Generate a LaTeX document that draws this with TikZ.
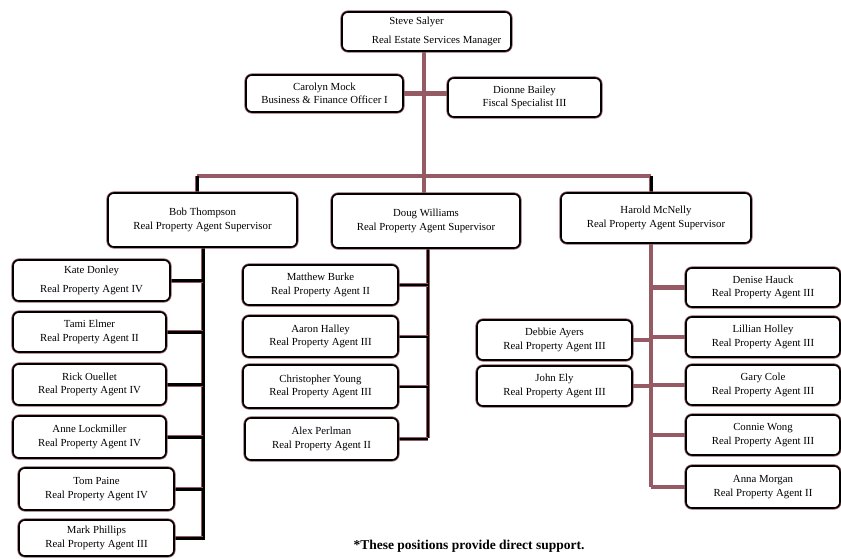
\documentclass[tikz,border=0pt]{standalone}
\usepackage{fontspec}
\setmainfont{Liberation Serif}
\pgfdeclarelayer{bg}
\pgfsetlayers{bg,main}
\definecolor{maroon}{RGB}{150,90,100}
\tikzset{
  box/.style={draw=black, line width=1.6pt, rounded corners=6pt, fill=white,
    preaction={draw=maroon, line width=3.2pt},
    align=center, inner sep=0pt, font=\fontsize{10.8}{13.5}\selectfont},
  mline/.style={draw=maroon, line width=4.5pt},
  bline/.style={draw=black, line width=3pt, preaction={draw=maroon, line width=4pt}},
  dline/.style={draw=black, line width=2pt, preaction={draw=maroon, line width=3.2pt}},
}
\begin{document}
\begin{tikzpicture}[x=1pt,y=-1pt]
\useasboundingbox (0,0) rectangle (841,558);
% top
\node[box, minimum width=169pt, minimum height=39pt] (steve) at (426.5,31.5) {\hspace*{-20pt}Steve Salyer\\[6pt] \hspace*{20pt}Real Estate Services Manager};
\node[box, minimum width=157pt, minimum height=37pt] (carolyn) at (324.5,93.5) {Carolyn Mock\\Business \& Finance Officer I};
\node[box, minimum width=153pt, minimum height=39pt] (dionne) at (524.5,97.5) {Dionne Bailey\\Fiscal Specialist III};
% supervisors
\node[box, minimum width=189pt, minimum height=54pt] (bob) at (202.5,220) {Bob Thompson\\Real Property Agent Supervisor};
\node[box, minimum width=188pt, minimum height=54pt] (doug) at (426,221) {Doug Williams\\Real Property Agent Supervisor};
\node[box, minimum width=190pt, minimum height=50pt] (harold) at (656,218) {Harold McNelly\\Real Property Agent Supervisor};
% Bob's team
\node[box, minimum width=157pt, minimum height=41pt] (kate) at (91.5,280.5) {Kate Donley\\[6pt]Real Property Agent IV};
\node[box, minimum width=153pt, minimum height=40pt] (tami) at (89.5,332) {Tami Elmer\\Real Property Agent II};
\node[box, minimum width=153pt, minimum height=41pt] (rick) at (89.5,384.5) {Rick Ouellet\\Real Property Agent IV};
\node[box, minimum width=153pt, minimum height=42pt] (anne) at (89.5,437) {Anne Lockmiller\\Real Property Agent IV};
\node[box, minimum width=155pt, minimum height=42pt] (tom) at (96.5,489) {Tom Paine\\Real Property Agent IV};
\node[box, minimum width=155pt, minimum height=36pt] (mark) at (96.5,538) {Mark Phillips\\Real Property Agent III};
% Doug's team
\node[box, minimum width=155pt, minimum height=40pt] (matthew) at (320.5,285) {Matthew Burke\\Real Property Agent II};
\node[box, minimum width=155pt, minimum height=41pt] (aaron) at (320.5,336.5) {Aaron Halley\\Real Property Agent III};
\node[box, minimum width=155pt, minimum height=43pt] (chris) at (320.5,386.5) {Christopher Young\\Real Property Agent III};
\node[box, minimum width=153pt, minimum height=42pt] (alex) at (321.5,439) {Alex Perlman\\Real Property Agent II};
% Harold's team
\node[box, minimum width=154pt, minimum height=39pt] (denise) at (763,287.5) {Denise Hauck\\Real Property Agent III};
\node[box, minimum width=154pt, minimum height=40pt] (lillian) at (763,337) {Lillian Holley\\Real Property Agent III};
\node[box, minimum width=154pt, minimum height=40pt] (gary) at (763,385) {Gary Cole\\Real Property Agent III};
\node[box, minimum width=154pt, minimum height=40pt] (connie) at (763,435) {Connie Wong\\Real Property Agent III};
\node[box, minimum width=154pt, minimum height=42pt] (anna) at (763,487) {Anna Morgan\\Real Property Agent II};
\node[box, minimum width=155pt, minimum height=40pt] (debbie) at (554.5,340) {Debbie Ayers\\Real Property Agent III};
\node[box, minimum width=155pt, minimum height=40pt] (john) at (554.5,386) {John Ely\\Real Property Agent III};
% footnote
\node[font=\fontsize{13.5}{15}\selectfont\bfseries, inner sep=0pt] (note) at (469,546) {*These positions provide direct support.};
% coordinates
\coordinate (trunk) at (424,176);
\coordinate (bl) at (197,176);
\coordinate (hr) at (651,176);
\coordinate (bv) at (203,540);
\coordinate (dv) at (428,438);
\coordinate (hv) at (651,487);
\begin{pgfonlayer}{bg}
  % top trunk
  \draw[mline] (steve.south -| trunk) -- (doug.north -| trunk);
  \draw[mline] (carolyn.east) -- (dionne.west |- carolyn.east);
  \draw[mline, line cap=butt] (bl) -- (hr);
  \draw[bline] (bl) -- (bl |- bob.north);
  \draw[bline] (hr) -- (hr |- harold.north);
  % Bob's branch
  \draw[bline] (bob.south -| bv) -- (bv);
  \foreach \n in {kate,tami,rick,anne,tom,mark}
    \draw[bline] (\n.east) -- (\n.east -| bv);
  % Doug's branch
  \draw[dline] (doug.south -| dv) -- (dv);
  \foreach \n in {matthew,aaron,chris,alex}
    \draw[dline] (\n.east) -- (\n.east -| dv);
  % Harold's branch
  \draw[mline] (harold.south -| hv) -- (hv);
  \foreach \n in {denise,lillian,gary,connie,anna}
    \draw[mline] (\n.west) -- (\n.west -| hv);
  \foreach \n in {debbie,john}
    \draw[mline] (\n.east) -- (\n.east -| hv);
\end{pgfonlayer}
\end{tikzpicture}
\end{document}
